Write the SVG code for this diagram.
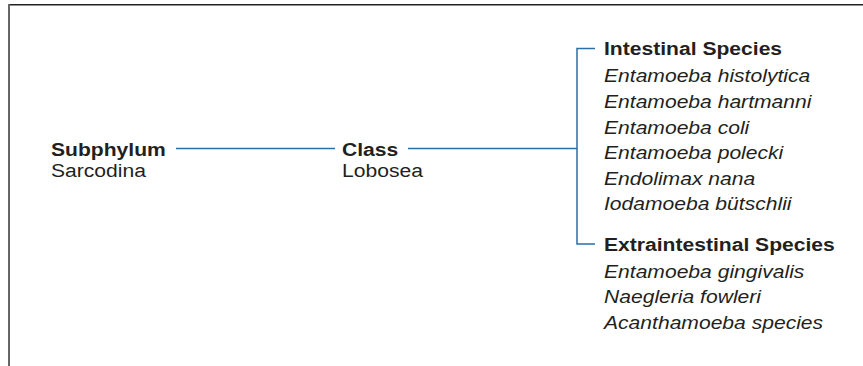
<svg xmlns="http://www.w3.org/2000/svg" width="863" height="366" viewBox="0 0 863 366">
<style>
text{font-family:"Liberation Sans",Arial,Helvetica,sans-serif;font-size:19px;fill:#231f20}
.b{font-weight:bold}
.i{font-style:italic}
.c{fill:none;stroke:#2b6ea6;stroke-width:1.5}
</style>
<rect x="0" y="0" width="863" height="366" fill="#ffffff"/>
<line x1="8" y1="4.7" x2="863" y2="4.7" stroke="#222" stroke-width="1.6"/>
<line x1="9" y1="4" x2="9" y2="366" stroke="#666" stroke-width="2"/>
<g id="connectors">
<line class="c" x1="176" y1="148.5" x2="335" y2="148.5"/>
<line class="c" x1="408" y1="148.5" x2="577" y2="148.5"/>
<polyline class="c" points="595,48.5 577,48.5 577,244 595,244"/>
</g>
<g id="subphylum" transform="translate(51 0) scale(1.11 1)">
<text class="b" x="0" y="156">Subphylum</text>
<text x="0" y="177">Sarcodina</text>
</g>
<g id="class" transform="translate(342 0) scale(1.11 1)">
<text class="b" x="0" y="156">Class</text>
<text x="0" y="177">Lobosea</text>
</g>
<g id="intestinal" transform="translate(604 0) scale(1.11 1)">
<text class="b" x="0" y="55">Intestinal Species</text>
<text class="i" x="0" y="82.3">Entamoeba histolytica</text>
<text class="i" x="0" y="108">Entamoeba hartmanni</text>
<text class="i" x="0" y="133.6">Entamoeba coli</text>
<text class="i" x="0" y="159.2">Entamoeba polecki</text>
<text class="i" x="0" y="184.8">Endolimax nana</text>
<text class="i" x="0" y="210.4">Iodamoeba bütschlii</text>
</g>
<g id="extraintestinal" transform="translate(604 0) scale(1.11 1)">
<text class="b" x="0" y="251.5">Extraintestinal Species</text>
<text class="i" x="0" y="278">Entamoeba gingivalis</text>
<text class="i" x="0" y="303.4">Naegleria fowleri</text>
<text class="i" x="0" y="328.8">Acanthamoeba species</text>
</g>
</svg>
